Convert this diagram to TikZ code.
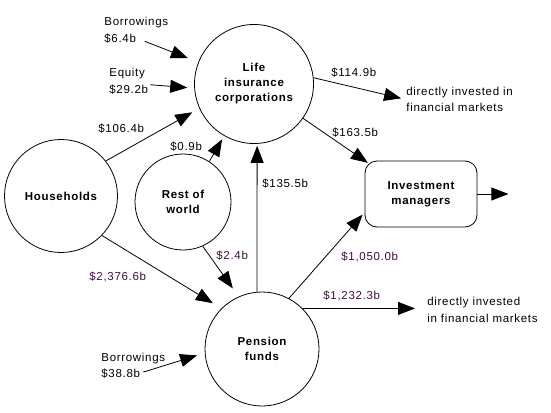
\documentclass[tikz,border=0pt]{standalone}
\usepackage{fontspec}
\setmainfont[LetterSpace=6]{Liberation Sans}
\usetikzlibrary{positioning,arrows.meta}
\definecolor{amtdark}{RGB}{64,12,64}

\begin{document}
\begin{tikzpicture}[x=1pt,y=-1pt,on grid,line width=0.8pt,
    font=\fontsize{11.5}{15}\selectfont,
    unit/.style={circle,draw,align=center,inner sep=0pt,font=\fontsize{11.5}{15}\selectfont\bfseries},
    mgr/.style={draw,rounded corners=12pt,minimum width=112pt,minimum height=66pt,align=center,font=\fontsize{11.5}{15}\selectfont\bfseries},
    amt/.style={anchor=west,inner sep=0pt,text height=8pt,text depth=0pt},
    note/.style={anchor=west,inner sep=0pt,align=left,font=\fontsize{11.5}{16.5}\selectfont},
    flow/.style={-{Triangle[length=17pt,width=13pt]}}]
    \useasboundingbox (0,0) rectangle (551,412);
    % sectors
    \node[unit,minimum size=113pt] (hh) at (61,196) {Households};
    \node[unit,minimum size=119pt,above right=112pt and 193pt of hh] (life) {Life\\insurance\\corporations};
    \node[unit,minimum size=96pt,below right=6pt and 122pt of hh] (row) {Rest of\\world};
    \node[unit,minimum size=114pt,below right=265pt and 8pt of life] (pension) {Pension\\funds};
    \node[mgr,below right=110pt and 167pt of life] (im) {Investment\\managers};
    \coordinate[right=31pt of im.east] (imout);
    % labels
    \node[amt] (borT) at (104,22) {Borrowings};
    \node[amt] (borA) at (104,38) {\$6.4b};
    \node[amt] (eqT) at (109,73) {Equity};
    \node[amt] (eqA) at (109,89) {\$29.2b};
    \node[amt] (hhlife) at (98,128) {\$106.4b};
    \node[amt] (rowlife) at (170,146) {\$0.9b};
    \node[amt] (penlife) at (262,183) {\$135.5b};
    \node[amt] (lifedir) at (331,73) {\$114.9b};
    \node[note] (dir1) at (406,99.5) {directly invested in\\financial markets};
    \node[amt] (lifeim) at (332,132) {\$163.5b};
    \node[amt,text=amtdark] (penim) at (341,256) {\$1,050.0b};
    \node[amt,text=amtdark] (pendir) at (323,295) {\$1,232.3b};
    \node[note] (dir2) at (427,310) {directly invested\\in financial markets};
    \node[amt,text=amtdark] (hhpen) at (89,276) {\$2,376.6b};
    \node[amt,text=amtdark] (rowpen) at (216,255) {\$2.4b};
    \node[amt] (bor2T) at (101,357) {Borrowings};
    \node[amt] (bor2A) at (101,373) {\$38.8b};
    % flows
    \draw[flow,shorten <=9pt,shorten >=11pt] (borA.east) -- (life);
    \draw[flow,shorten <=2pt,shorten >=7pt] (eqA.north east) -- (life.184);
    \draw[flow,shorten >=8pt] (hh.38) -- (life.204);
    \draw[flow,shorten >=4pt] (row.57) -- (life.240);
    \draw[flow,shorten >=2pt] (pension.95) -- (life.-87);
    \draw[flow,shorten >=5pt] (life.6) -- (dir1.west);
    \draw[flow,shorten >=-4pt] (life.-35) -- (im.north west);
    \draw[flow] (im) -- (imout);
    \draw[flow,shorten >=10pt] (hh.-44) -- (pension.135);
    \draw[flow,shorten >=10pt] (row.-66) -- (pension.114);
    \draw[flow,shorten >=3pt] (pension.62) -- (im.198);
    \draw[flow,shorten >=12pt] (pension.45) -- (pension.45 -| dir2.west);
    \draw[flow,shorten <=3pt,shorten >=8pt] (bor2A.east) -- (pension.184);
\end{tikzpicture}
\end{document}
